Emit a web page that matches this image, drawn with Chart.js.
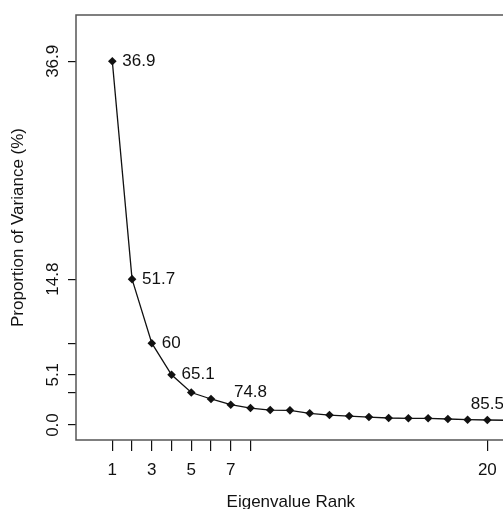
<!DOCTYPE html>
<html>
<head>
<meta charset="utf-8">
<script src="https://cdn.jsdelivr.net/npm/chart.js@4/dist/chart.umd.min.js"></script>
<style>
  html, body { margin: 0; padding: 0; overflow: hidden; background: #fff; }
  #wrap { width: 503px; height: 509px; overflow: hidden; position: relative; }
  #scree { position: absolute; left: 0; top: 0; }
</style>
</head>
<body>
<div id="wrap"><canvas id="scree" width="510" height="509"></canvas></div>
<script>
// Scree data: proportion of variance per eigenvalue rank
const ranks = [1, 2, 3, 4, 5, 6, 7, 8, 9, 10, 11, 12, 13, 14, 15, 16, 17, 18, 19, 20, 21];
const variance = [36.9, 14.8, 8.3, 5.1, 3.3, 2.64, 2.06, 1.72, 1.52, 1.49, 1.19, 1.01, 0.91, 0.81, 0.71, 0.68, 0.68, 0.61, 0.54, 0.51, 0.48];

// Axis ticks
const xTicks = [1, 2, 3, 4, 5, 6, 7, 8, 20];
const xTickLabels = ['1', '', '3', '', '5', '', '7', '', '20'];
const yTicks = [0, 3.3, 5.1, 8.3, 14.8, 36.9];
const yTickLabels = ['0.0', '', '5.1', '', '14.8', '36.9'];

// Cumulative variance labels
const cumRanks = [1, 2, 3, 4, 8, 20];
const cumLabels = ['36.9', '51.7', '60', '65.1', '74.8', '85.5'];
const cumSide = ['right', 'right', 'right', 'right', 'above', 'above'];

const FONT = '"Liberation Sans", Arial, Helvetica, sans-serif';
const INK = '#111';

const annotate = {
    id: 'annotate',
    afterDraw(chart) {
        const ctx = chart.ctx;
        const area = chart.chartArea;
        ctx.save();

        // box around the plot
        ctx.strokeStyle = '#555';
        ctx.lineWidth = 1.5;
        ctx.strokeRect(area.left, area.top, area.right - area.left, area.bottom - area.top);

        ctx.font = '17px ' + FONT;
        ctx.fillStyle = INK;

        // cumulative labels next to points
        const pts = chart.getDatasetMeta(0).data;
        cumRanks.forEach((r, i) => {
            const p = pts[ranks.indexOf(r)];
            ctx.textBaseline = 'middle';
            if (cumSide[i] === 'right') {
                ctx.textAlign = 'left';
                ctx.fillText(cumLabels[i], p.x + 10, p.y);
            } else {
                ctx.textAlign = 'center';
                ctx.fillText(cumLabels[i], p.x, p.y - 16);
            }
        });

        // rotated y tick labels
        const ys = chart.scales.y;
        yTicks.forEach((v, i) => {
            if (!yTickLabels[i]) return;
            ctx.save();
            ctx.translate(53, ys.getPixelForValue(v));
            ctx.rotate(-Math.PI / 2);
            ctx.textAlign = 'center';
            ctx.textBaseline = 'middle';
            ctx.fillText(yTickLabels[i], 0, 0);
            ctx.restore();
        });

        ctx.restore();
    }
};

const ctx = document.getElementById('scree').getContext('2d');
const chart = new Chart(ctx, {
    type: 'line',
    data: {
        datasets: [{
            data: ranks.map((r, i) => ({ x: r, y: variance[i] })),
            borderColor: INK,
            borderWidth: 1.3,
            backgroundColor: INK,
            pointStyle: 'rectRot',
            pointRadius: 4.3,
            pointBorderWidth: 0,
            pointBackgroundColor: INK,
            tension: 0,
            fill: false
        }]
    },
    options: {
        responsive: false,
        animation: false,
        devicePixelRatio: 1,
        layout: { padding: { top: 15, left: 0, right: 0, bottom: 0 } },
        plugins: {
            legend: { display: false },
            tooltip: { enabled: false }
        },
        scales: {
            x: {
                type: 'linear',
                min: -0.84,
                max: 20.93,
                afterBuildTicks: (scale) => { scale.ticks = xTicks.map(v => ({ value: v })); },
                afterFit: (scale) => {
                    scale.height = 69;
                    scale.paddingLeft = 0;
                    scale.paddingRight = 0;
                },
                grid: { drawOnChartArea: false, tickLength: 11, color: INK, lineWidth: 1.2 },
                border: { display: false },
                ticks: {
                    autoSkip: false,
                    maxRotation: 0,
                    padding: 9,
                    color: INK,
                    font: { family: FONT, size: 17 },
                    callback: (v, i) => xTickLabels[i]
                },
                title: {
                    display: true,
                    text: 'Eigenvalue Rank',
                    color: INK,
                    font: { family: FONT, size: 17, lineHeight: 1 },
                    padding: { top: 0, bottom: -2 }
                }
            },
            y: {
                type: 'linear',
                min: -1.52,
                max: 41.6,
                afterBuildTicks: (scale) => { scale.ticks = yTicks.map(v => ({ value: v })); },
                afterFit: (scale) => {
                    scale.width = 76;
                    scale.paddingTop = 0;
                    scale.paddingBottom = 0;
                },
                grid: { drawOnChartArea: false, tickLength: 8, color: INK, lineWidth: 1.2 },
                border: { display: false },
                ticks: { display: false },
                title: {
                    display: true,
                    text: 'Proportion of Variance (%)',
                    color: INK,
                    font: { family: FONT, size: 17, lineHeight: 1 },
                    padding: { top: 9.5, bottom: 0 }
                }
            }
        }
    },
    plugins: [annotate]
});
</script>
</body>
</html>
